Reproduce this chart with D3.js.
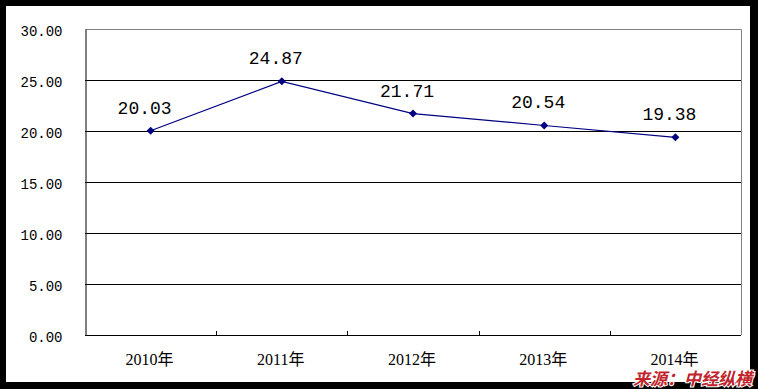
<!DOCTYPE html>
<html>
<head>
<meta charset="utf-8">
<script src="https://cdn.jsdelivr.net/npm/d3@7"></script>
<style>
  body { margin: 0; background: #000; }
  svg { display: block; }
</style>
</head>
<body>
<div id="chart"></div>
<script>
// data
const years = ["2010年", "2011年", "2012年", "2013年", "2014年"];
const values = [20.03, 24.87, 21.71, 20.54, 19.38];
const yTicks = [0, 5, 10, 15, 20, 25, 30];

const width = 758, height = 389;
const margin = { top: 29, right: 17, bottom: 54, left: 85 };
const w = width - margin.left - margin.right,
      h = height - margin.top - margin.bottom;

const svg = d3.select("#chart")
  .append("svg")
  .attr("width", width)
  .attr("height", height);

// black frame + white page
svg.append("rect").attr("width", width).attr("height", height).attr("fill", "#000");
svg.append("rect").attr("x", 6).attr("y", 6).attr("width", 744).attr("height", 376).attr("fill", "#fff");

const g = svg.append("g").attr("transform", `translate(${margin.left},${margin.top})`);

const x = d3.scaleBand().domain(years).range([0, w]);
const y = d3.scaleLinear().domain([0, 30]).range([h, 0]);

// grid lines
g.append("g")
  .selectAll("line")
  .data(yTicks.filter(t => t > 0 && t < 30))
  .join("line")
  .attr("x1", 0).attr("x2", w)
  .attr("y1", d => y(d) + 0.5).attr("y2", d => y(d) + 0.5)
  .attr("stroke", "#000");

// top and right border (gray)
g.append("path")
  .attr("d", `M0.5,${y(30) + 0.5}H${w + 0.5}V${h}`)
  .attr("fill", "none")
  .attr("stroke", "#808080");

// y axis
const yAxis = g.append("g")
  .attr("transform", "translate(0.5,0)")
  .call(d3.axisLeft(y).tickValues(yTicks).tickSize(0).tickPadding(23).tickFormat(d3.format(".2f")));
yAxis.select(".domain").attr("stroke", "#000");
yAxis.selectAll("text")
  .attr("font-family", "'Liberation Mono', monospace")
  .attr("font-size", "14px")
  .attr("dy", "0.45em")
  .attr("fill", "#000");

// x axis, ticks at category boundaries pointing inward
g.append("line")
  .attr("x1", 0).attr("x2", w)
  .attr("y1", h + 0.5).attr("y2", h + 0.5)
  .attr("stroke", "#000");
g.append("g")
  .selectAll("line")
  .data(years.slice(1))
  .join("line")
  .attr("x1", d => Math.round(x(d)) + 0.5).attr("x2", d => Math.round(x(d)) + 0.5)
  .attr("y1", h).attr("y2", h - 4)
  .attr("stroke", "#000");
g.append("g")
  .selectAll("text")
  .data(years)
  .join("text")
  .attr("x", d => x(d) + x.bandwidth() / 2 - 1)
  .attr("y", h + 30)
  .attr("text-anchor", "middle")
  .attr("font-family", "'Liberation Serif', 'Noto Sans CJK SC', serif")
  .attr("font-size", "16px")
  .attr("fill", "#000")
  .text(d => d);

// line
const pts = years.map((yr, i) => [x(yr) + x.bandwidth() / 2, y(values[i])]);
g.append("path")
  .datum(pts)
  .attr("d", d3.line())
  .attr("fill", "none")
  .attr("stroke", "#000080")
  .attr("stroke-width", 1.2);

// diamond markers
g.append("g")
  .selectAll("path")
  .data(pts)
  .join("path")
  .attr("transform", d => `translate(${d[0]},${d[1]})`)
  .attr("d", "M0,-4L4,0L0,4L-4,0Z")
  .attr("fill", "#000080");

// value labels (sit a little left of the point, as in the original)
g.append("g")
  .selectAll("text")
  .data(pts)
  .join("text")
  .attr("x", d => d[0] - 6)
  .attr("y", d => d[1] - 17)
  .attr("text-anchor", "middle")
  .attr("font-family", "'Liberation Mono', monospace")
  .attr("font-size", "18px")
  .attr("fill", "#000")
  .text((d, i) => values[i].toFixed(2));

// watermark
svg.append("text")
  .attr("x", 752)
  .attr("y", 385)
  .attr("text-anchor", "end")
  .attr("font-family", "'Noto Sans CJK SC', sans-serif")
  .attr("font-weight", "bold")
  .attr("font-style", "italic")
  .attr("font-size", "17px")
  .attr("fill", "#c0242c")
  .attr("stroke", "#fff")
  .attr("stroke-width", 2)
  .attr("paint-order", "stroke")
  .text("来源：中经纵横");
</script>
</body>
</html>
